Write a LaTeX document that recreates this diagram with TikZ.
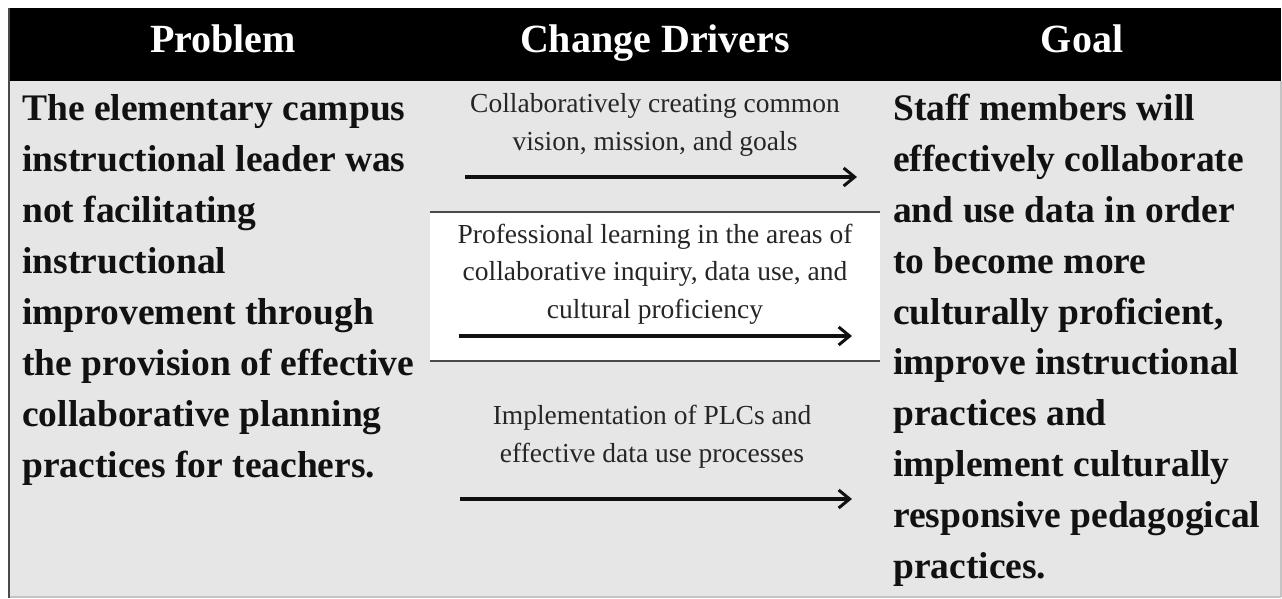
\documentclass[tikz,border=0pt]{standalone}
\usepackage{fontspec}
\setmainfont{Liberation Serif}
\usepackage{tikz}
\usetikzlibrary{arrows.meta}
\definecolor{ink}{HTML}{111111}
\definecolor{soft}{HTML}{262626}
\definecolor{panel}{HTML}{E6E6E6}
\definecolor{rim}{HTML}{4A4A4A}
\definecolor{edge}{HTML}{C4C4C4}
\tikzset{>={Straight Barb[length=11pt,width=18pt,line width=3pt]},
  head/.style={font=\fontsize{40}{44}\selectfont\bfseries,text=white,inner sep=0pt,anchor=base},
  big/.style={font=\fontsize{37.5}{50.9}\selectfont\bfseries,text=ink,align=left,inner sep=0pt,anchor=base west},
  small/.style={font=\fontsize{27.5}{37.5}\selectfont,text=soft,align=center,inner sep=0pt,anchor=base},
  drive/.style={draw=ink,line width=3.2pt,->},
  rule/.style={draw=rim,line width=2.2pt}}
\begin{document}
\begin{tikzpicture}[x=1pt,y=-1pt]
  \useasboundingbox (0,0) rectangle (1282,599);
  \fill[white] (0,0) rectangle (1282,599);
  % header bar and body
  \fill[black] (8,8) rectangle (1281,81);
  \fill[panel] (8,81) rectangle (1281,597);
  \draw[edge,line width=1.5pt] (8,597)--(1281,597) (1281,81)--(1281,597);
  \draw[rim,line width=2.5pt] (9,8)--(9,598);
  % white band behind the middle driver
  \fill[white] (430,212) rectangle (880,361);
  \draw[rule] (430,212)--(880,212) (430,361)--(880,361);
  \node[head] (hProb) at (223,53) {Problem};
  \node[head] (hDrv) at (655,53) {Change Drivers};
  \node[head] (hGoal) at (1082,53) {Goal};
  % multi-line nodes sit on their last baseline
  \node[big] (prob) at (22,477) {The elementary campus\\instructional leader was\\not facilitating\\instructional\\improvement through\\the provision of effective\\collaborative planning\\practices for teachers.};
  \node[big] (goal) at (893,578.5) {Staff members will\\effectively collaborate\\and use data in order\\to become more\\culturally proficient,\\improve instructional\\practices and\\implement culturally\\responsive pedagogical\\practices.};
  \node[small] (dOne) at (655,150) {Collaboratively creating common\\vision, mission, and goals};
  \node[small] (dTwo) at (655,318) {Professional learning in the areas of\\collaborative inquiry, data use, and\\cultural proficiency};
  \node[small] (dThree) at (652,462) {Implementation of PLCs and\\effective data use processes};
  \coordinate (aOne) at (465,177);
  \coordinate (bOne) at (857,177);
  \coordinate (aTwo) at (459,336);
  \coordinate (bTwo) at (852,336);
  \coordinate (aThree) at (460,499);
  \coordinate (bThree) at (852,499);
  \draw[drive] (aOne)--(bOne);
  \draw[drive] (aTwo)--(bTwo);
  \draw[drive] (aThree)--(bThree);
\end{tikzpicture}
\end{document}
